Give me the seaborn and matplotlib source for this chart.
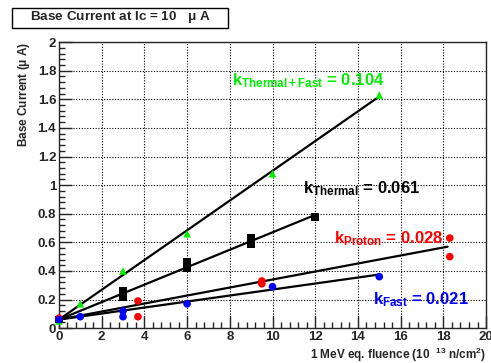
import numpy as np
import pandas as pd
import matplotlib.pyplot as plt
import seaborn as sns
from matplotlib.ticker import MultipleLocator

plt.switch_backend('Agg')

# pontos medidos (fluencia em 1e13 n/cm2, corrente de base em uA)
tf_x = [0, 0, 1, 3, 6, 10, 15]
tf_y = [0.05, 0.07, 0.17, 0.40, 0.66, 1.08, 1.63]

th_x = [0, 3, 3, 6, 6, 9, 9, 12]
th_y = [0.06, 0.22, 0.26, 0.42, 0.46, 0.59, 0.63, 0.78]

pr_x = [0, 3.7, 3.7, 9.5, 9.5, 18.3, 18.3]
pr_y = [0.07, 0.19, 0.08, 0.31, 0.33, 0.63, 0.50]

fa_x = [0, 1, 3, 3, 6, 10, 15]
fa_y = [0.06, 0.08, 0.12, 0.08, 0.17, 0.29, 0.36]

# ajustes lineares: inclinacao k, intercepto, fim da reta
nomes = ['Thermal+Fast', 'Thermal', 'Proton', 'Fast']
k_vals = [0.104, 0.061, 0.028, 0.021]
interc = [0.06, 0.06, 0.06, 0.06]
x_fim = [15, 12, 18.2, 15]
cores = ['#00ee00', 'black', '#ff0000', '#0000ff']

x_ticks = list(range(0, 21, 2))
y_ticks = [0, 0.2, 0.4, 0.6, 0.8, 1.0, 1.2, 1.4, 1.6, 1.8, 2.0]
y_labels = ['0', '0.2', '0.4', '0.6', '0.8', '1', '1.2', '1.4', '1.6', '1.8', '2']

sns.set_style('ticks')
plt.rcParams['font.family'] = ['Liberation Sans', 'DejaVu Sans']
plt.rcParams['font.weight'] = 'bold'
plt.rcParams['mathtext.fontset'] = 'custom'
plt.rcParams['mathtext.rm'] = 'Liberation Sans:bold'
plt.rcParams['mathtext.bf'] = 'Liberation Sans:bold'
plt.rcParams['mathtext.it'] = 'Liberation Sans:bold'

fig = plt.figure(figsize=(4.91, 3.63), dpi=100)
ax = fig.add_axes([0.12, 0.096, 0.87, 0.788])

# retas de ajuste
for k, b, xf in zip(k_vals, interc, x_fim):
    xs = np.array([0, xf])
    reta = pd.DataFrame({'x': xs, 'y': b + k * xs})
    sns.lineplot(data=reta, x='x', y='y', color='black', lw=1.6, ax=ax)

sns.scatterplot(x=tf_x, y=tf_y, marker='^', color=cores[0], s=30, edgecolor='none', ax=ax, clip_on=False, zorder=5)
sns.scatterplot(x=th_x, y=th_y, marker='s', color=cores[1], s=32, edgecolor='none', ax=ax, clip_on=False, zorder=5)
sns.scatterplot(x=pr_x, y=pr_y, marker='o', color=cores[2], s=30, edgecolor='none', ax=ax, clip_on=False, zorder=5)
sns.scatterplot(x=fa_x, y=fa_y, marker='o', color=cores[3], s=30, edgecolor='none', ax=ax, clip_on=False, zorder=5)

# rotulos com os k
pos_txt = [(8.1, 1.70), (11.45, 0.94), (12.9, 0.59), (14.7, 0.17)]
for nome, k, cor, (tx, ty) in zip(nomes, k_vals, cores, pos_txt):
    ax.text(tx, ty, r'k$_{\mathbf{' + nome + '}}$ = %.3f' % k, color=cor,
            fontsize=12, fontweight='bold', va='baseline', ha='left')

ax.set_xticks(x_ticks)
ax.set_xticklabels([str(v) for v in x_ticks])
ax.set_yticks(y_ticks)
ax.set_yticklabels(y_labels)
ax.xaxis.set_minor_locator(MultipleLocator(0.4))
ax.yaxis.set_minor_locator(MultipleLocator(0.04))
ax.set_xlim(0, 20)
ax.set_ylim(0, 2)
ax.tick_params(which='major', direction='in', length=9, width=1, labelsize=9.5, top=False, right=False, pad=2)
ax.tick_params(which='minor', direction='in', length=4.5, width=1, top=False, right=False)
ax.grid(True, which='major', color='black', linestyle=(0, (1, 1.5)), lw=0.8)
for s in ax.spines.values():
    s.set_visible(True)
    s.set_linewidth(1)

ax.set_xlabel(r'1 MeV eq. fluence (10  $^{13}$ n/cm$^{2}$)', fontsize=8.5, fontweight='bold', loc='right', labelpad=2)
ax.set_ylabel(r'Base Current ($\mu$ A)', fontsize=8.5, fontweight='bold', loc='top', labelpad=4)

# caixa do titulo
fig.text(0.245, 0.952, r'Base Current at Ic = 10   $\mu$ A', fontsize=9.7, fontweight='bold', ha='center', va='center')
fig.patches.append(plt.Rectangle((12 / 491, 1 - 28 / 363), 216 / 491, 20 / 363, transform=fig.transFigure,
                                 fill=False, ec='black', lw=1))

fig.savefig('out.png', dpi=100)
plt.close()
